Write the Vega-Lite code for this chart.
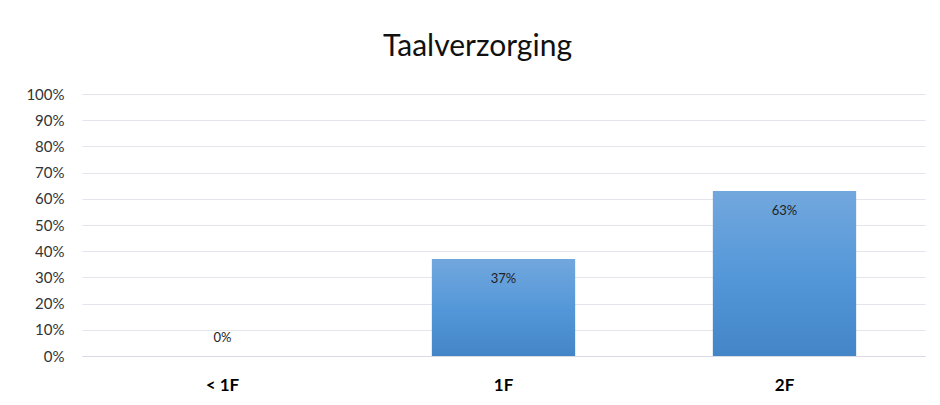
{
  "$schema": "https://vega.github.io/schema/vega-lite/v6.json",
  "autosize": {"type": "none"},
  "width": 843,
  "height": 262,
  "padding": {"left": 82, "top": 94, "right": 15, "bottom": 49},
  "background": "white",
  "title": {
    "text": "Taalverzorging",
    "font": "Lato",
    "fontSize": 30,
    "fontWeight": "normal",
    "color": "#111111",
    "anchor": "middle",
    "dx": -26,
    "offset": 25
  },
  "data": {
    "values": [
      {"niveau": "< 1F", "aandeel": 0},
      {"niveau": "1F", "aandeel": 0.37},
      {"niveau": "2F", "aandeel": 0.63}
    ]
  },
  "config": {
    "view": {"stroke": null},
    "font": "Lato",
    "axis": {"labelFont": "Lato"}
  },
  "encoding": {
    "x": {
      "field": "niveau",
      "type": "nominal",
      "sort": null,
      "scale": {"paddingInner": 0.49, "paddingOuter": 0.245},
      "axis": {
        "title": null,
        "labelAngle": 0,
        "labelFontSize": 17,
        "labelFontWeight": "bold",
        "labelColor": "#000000",
        "labelPadding": 21,
        "ticks": false,
        "domainColor": "#d9d9e1",
        "domainWidth": 1
      }
    },
    "y": {
      "field": "aandeel",
      "type": "quantitative",
      "scale": {"domain": [0, 1]},
      "axis": {
        "title": null,
        "format": ".0%",
        "values": [0, 0.1, 0.2, 0.3, 0.4, 0.5, 0.6, 0.7, 0.8, 0.9, 1],
        "labelFontSize": 15,
        "labelColor": "#333333",
        "labelPadding": 18,
        "ticks": false,
        "domain": false,
        "gridColor": "#e4e4ec",
        "gridWidth": 1.2
      }
    }
  },
  "layer": [
    {
      "mark": {
        "type": "bar",
        "color": {
          "gradient": "linear",
          "x1": 0, "y1": 0, "x2": 0, "y2": 1,
          "stops": [
            {"offset": 0, "color": "#72a7dd"},
            {"offset": 0.5, "color": "#5598d9"},
            {"offset": 1, "color": "#4385c7"}
          ]
        }
      }
    },
    {
      "transform": [{"filter": "datum.aandeel > 0"}],
      "mark": {"type": "text", "baseline": "middle", "dy": 20, "fontSize": 13, "color": "#222222"},
      "encoding": {"text": {"field": "aandeel", "type": "quantitative", "format": ".0%"}}
    },
    {
      "transform": [{"filter": "datum.aandeel == 0"}],
      "mark": {"type": "text", "baseline": "middle", "dy": -18, "fontSize": 13, "color": "#222222"},
      "encoding": {"text": {"field": "aandeel", "type": "quantitative", "format": ".0%"}}
    }
  ]
}
